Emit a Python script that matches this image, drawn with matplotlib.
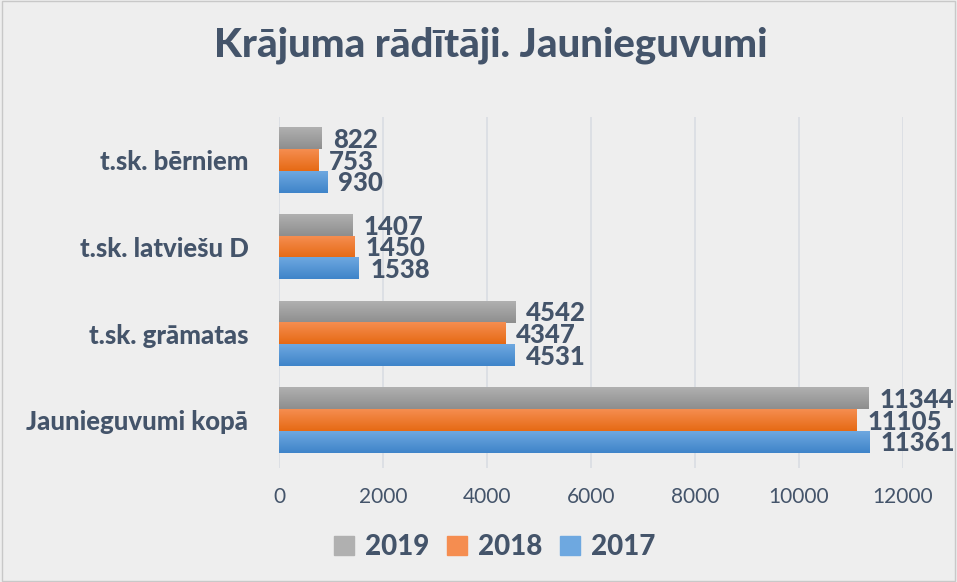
import numpy as np
import matplotlib.pyplot as plt
from matplotlib.patches import Rectangle
from matplotlib.colors import LinearSegmentedColormap

# Dati
kategorijas = ['Jaunieguvumi kopā', 't.sk. grāmatas', 't.sk. latviešu D', 't.sk. bērniem']
gadi = ['2019', '2018', '2017']
vertibas = {
    '2019': [11344, 4542, 1407, 822],
    '2018': [11105, 4347, 1450, 753],
    '2017': [11361, 4531, 1538, 930],
}
x_ticks = [0, 2000, 4000, 6000, 8000, 10000, 12000]

# Krāsas (gradients augša -> apakša)
krasas = {
    '2019': ('#b0b0b0', '#8e8e8e'),
    '2018': ('#f58d50', '#e66a14'),
    '2017': ('#6ea8e0', '#3f84c9'),
}
teksta_krasa = '#44546a'
fons = '#eeeeee'

plt.rcParams['font.family'] = ['Lato', 'DejaVu Sans']

fig = plt.figure(figsize=(9.57, 5.82), dpi=100, facecolor=fons)
ax = fig.add_axes([0.2915, 0.196, 0.652, 0.603])
ax.set_facecolor(fons)

y = np.arange(len(kategorijas))
h = 0.25
nobides = {'2019': h, '2018': 0.0, '2017': -h}

for gads in gadi:
    c1, c2 = krasas[gads]
    cmap = LinearSegmentedColormap.from_list('g' + gads, [c2, c1])
    bars = ax.barh(y + nobides[gads], vertibas[gads], height=h, color=c1,
                   label=gads, zorder=2)
    for b, v in zip(bars, vertibas[gads]):
        b.set_alpha(0)
        x0, y0 = b.get_x(), b.get_y()
        w, hh = b.get_width(), b.get_height()
        ax.imshow(np.linspace(0, 1, 50).reshape(-1, 1), cmap=cmap,
                  extent=[x0, x0 + w, y0, y0 + hh], origin='lower',
                  aspect='auto', zorder=2)
        ax.annotate(str(v), (x0 + w, y0 + hh / 2), xytext=(8, -1),
                    textcoords='offset points', va='center', ha='left',
                    fontsize=18.5, fontweight='black', color=teksta_krasa,
                    annotation_clip=False, zorder=3)

ax.set_xlim(0, 12000)
ax.set_ylim(-0.55, 3.5)
ax.set_xticks(x_ticks)
ax.set_xticklabels([str(t) for t in x_ticks], fontsize=15, color=teksta_krasa)
ax.set_yticks(y)
ax.set_yticklabels(kategorijas, fontsize=18.5, fontweight='black', color=teksta_krasa)
ax.tick_params(axis='both', length=0)
ax.tick_params(axis='x', pad=14)
ax.tick_params(axis='y', pad=22)
ax.grid(axis='x', color='#d9dde3', linewidth=1.2, zorder=0)
for s in ax.spines.values():
    s.set_visible(False)

fig.suptitle('Krājuma rādītāji. Jaunieguvumi', x=0.513, y=0.955,
             fontsize=29, fontweight='black', color=teksta_krasa)

handles = [Rectangle((0, 0), 1, 1, color=krasas[g][0]) for g in gadi]
fig.legend(handles, gadi, loc='center', bbox_to_anchor=(0.517, 0.06), ncol=3,
           frameon=False, prop={'size': 20, 'weight': 'black'},
           labelcolor=teksta_krasa, handlelength=0.7, handleheight=0.7,
           handletextpad=0.4, columnspacing=0.65)

fig.patches.append(Rectangle((0.002, 0.002), 0.996, 0.996, transform=fig.transFigure,
                             fill=False, edgecolor='#c8c8c8', linewidth=1))

plt.savefig('out.png', dpi=100, facecolor=fons)
plt.close()
